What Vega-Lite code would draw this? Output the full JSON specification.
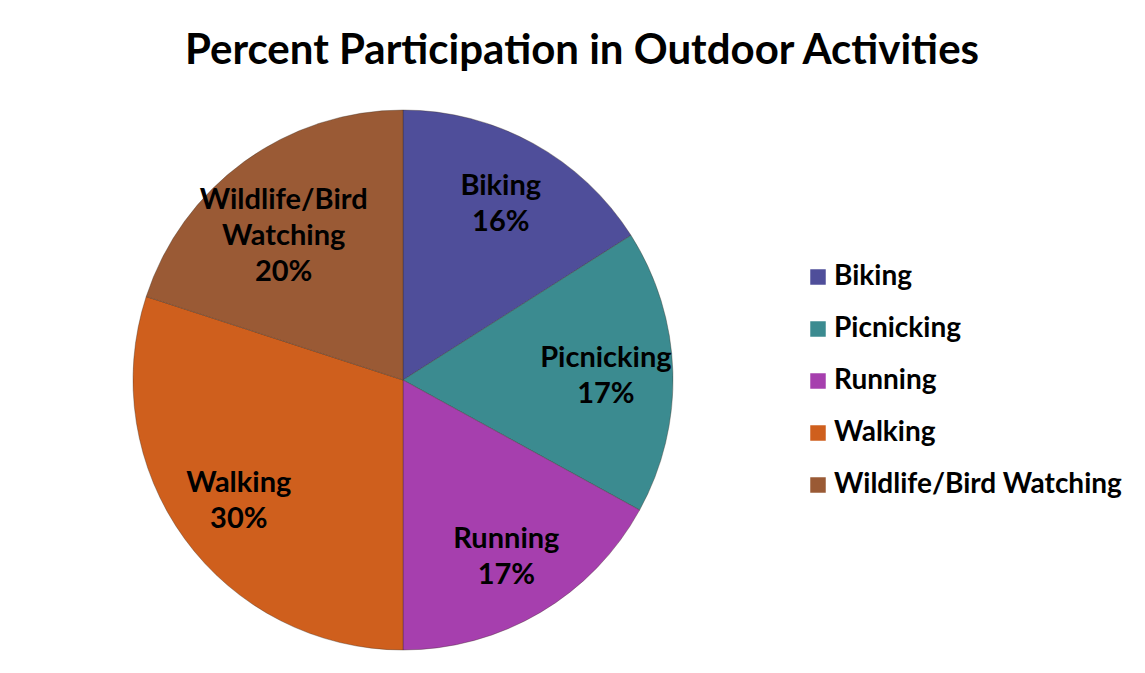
{
  "$schema": "https://vega.github.io/schema/vega-lite/v6.json",
  "width": 806,
  "height": 600,
  "autosize": {"type": "none"},
  "padding": {"left": 0, "top": 80, "right": 339, "bottom": 0},
  "background": "white",
  "config": {"view": {"stroke": null}},
  "title": {
    "text": "Percent Participation in Outdoor Activities",
    "font": "Lato",
    "fontSize": 42,
    "fontWeight": "bold",
    "color": "black",
    "anchor": "middle",
    "dx": 179,
    "baseline": "alphabetic",
    "offset": -26
  },
  "data": {
    "values": [
      {"activity": "Biking", "percent": 16},
      {"activity": "Picnicking", "percent": 17},
      {"activity": "Running", "percent": 17},
      {"activity": "Walking", "percent": 30},
      {"activity": "Wildlife/Bird Watching", "percent": 20}
    ]
  },
  "transform": [
    {"calculate": "datum.activity == 'Wildlife/Bird Watching' ? 'Wildlife/Bird|Watching|' + datum.percent + '%' : datum.activity + '|' + datum.percent + '%'", "as": "label"}
  ],
  "encoding": {
    "theta": {"field": "percent", "type": "quantitative", "stack": true},
    "order": {"field": "activity", "type": "nominal"}
  },
  "layer": [
    {
      "mark": {"type": "arc", "outerRadius": 270, "stroke": "#3a2a20", "strokeWidth": 1, "strokeOpacity": 0.35},
      "encoding": {
        "color": {
          "field": "activity",
          "type": "nominal",
          "scale": {
            "domain": ["Biking", "Picnicking", "Running", "Walking", "Wildlife/Bird Watching"],
            "range": ["#4f4e9a", "#3b8b90", "#a63fae", "#cf5f1d", "#9a5a35"]
          },
          "legend": {
            "title": null,
            "orient": "none",
            "legendX": 804,
            "legendY": 183,
            "symbolType": "square",
            "symbolSize": 240,
            "symbolStrokeWidth": 0,
            "labelFont": "Lato",
            "labelFontSize": 28,
            "labelFontWeight": "bold",
            "labelColor": "black",
            "labelLimit": 400,
            "labelOffset": 2,
            "rowPadding": 24
          }
        }
      }
    },
    {
      "mark": {"type": "text", "radius": 203, "dy": -16, "font": "Lato", "fontSize": 29, "fontWeight": "bold", "fill": "black", "lineBreak": "|", "lineHeight": 36, "align": "center", "baseline": "middle"},
      "encoding": {
        "detail": {"field": "activity", "type": "nominal"},
        "text": {"field": "label", "type": "nominal"}
      }
    }
  ]
}
